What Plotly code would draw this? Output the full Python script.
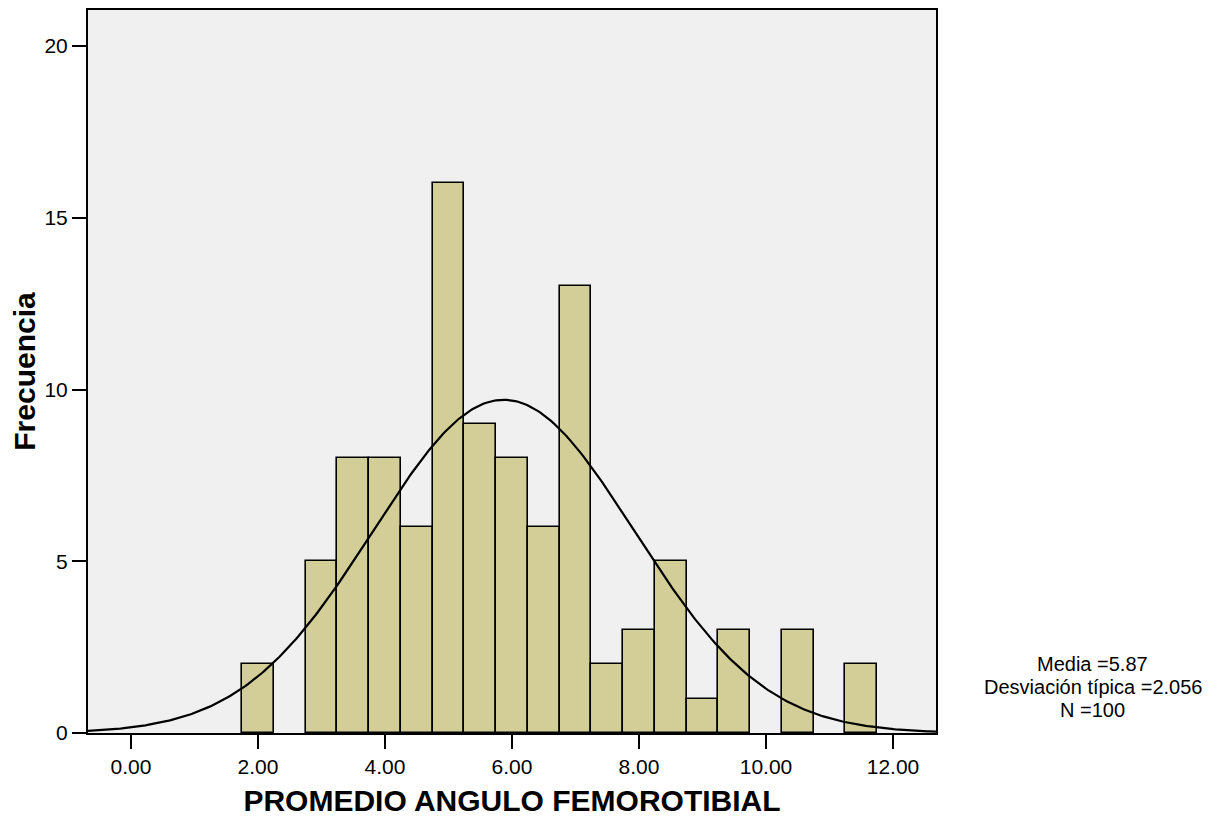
import numpy as np
import plotly.graph_objects as go

bin_centers = [2.0, 3.0, 3.5, 4.0, 4.5, 5.0, 5.5, 6.0, 6.5, 7.0, 7.5, 8.0, 8.5, 9.0, 9.5, 10.5, 11.5]
counts = [2, 5, 8, 8, 6, 16, 9, 8, 6, 13, 2, 3, 5, 1, 3, 3, 2]
bin_width = 0.5
mean_val = 5.87
sd_val = 2.056
n_val = 100
x_ticks = [0, 2, 4, 6, 8, 10, 12]
x_tick_labels = ["0.00", "2.00", "4.00", "6.00", "8.00", "10.00", "12.00"]
y_ticks = [0, 5, 10, 15, 20]
stats_lines = ["Media =5.87", "Desviación típica =2.056", "N =100"]

x_range = [-0.677, 12.677]
y_range = [0, 21.05]

xs = np.linspace(x_range[0], x_range[1], 400)
ys = n_val * bin_width * np.exp(-0.5 * ((xs - mean_val) / sd_val) ** 2) / (sd_val * np.sqrt(2 * np.pi))

fig = go.Figure()
fig.add_trace(go.Bar(
    x=bin_centers, y=counts, width=bin_width,
    marker=dict(color="#D3CE97", line=dict(color="black", width=1.6)),
    showlegend=False, hoverinfo="x+y"))
fig.add_trace(go.Scatter(
    x=xs, y=ys, mode="lines", line=dict(color="black", width=2.2),
    showlegend=False, hoverinfo="skip"))

font_family = "Liberation Sans, Arial, sans-serif"
stat_y = [0.0952, 0.0634, 0.0317]
annotations = [dict(
    xref="paper", yref="paper", x=1.185, y=yy, text=t,
    showarrow=False, xanchor="center", yanchor="middle",
    font=dict(size=20, family=font_family, color="black"))
    for t, yy in zip(stats_lines, stat_y)]

fig.update_layout(
    width=1221, height=809,
    margin=dict(l=80, r=293, t=0, b=84),
    paper_bgcolor="white", plot_bgcolor="#F0F0F0",
    font=dict(family=font_family, color="black", size=21),
    bargap=0,
    xaxis=dict(range=x_range, tickvals=x_ticks, ticktext=x_tick_labels,
               ticks="outside", ticklen=14, tickwidth=2, tickcolor="black",
               showgrid=False, zeroline=False, showline=True, linecolor="black", linewidth=2,
               mirror=True, tickfont=dict(size=21),
               title=dict(text="<b>PROMEDIO ANGULO FEMOROTIBIAL</b>", font=dict(size=30), standoff=16)),
    yaxis=dict(range=y_range, tickvals=y_ticks,
               ticks="outside", ticklen=14, tickwidth=2, tickcolor="black",
               showgrid=False, zeroline=False, showline=True, linecolor="black", linewidth=2,
               mirror=True, tickfont=dict(size=21),
               title=dict(text="<b>Frecuencia</b>", font=dict(size=30), standoff=4)),
    annotations=annotations,
)

fig.write_html("out.html")
